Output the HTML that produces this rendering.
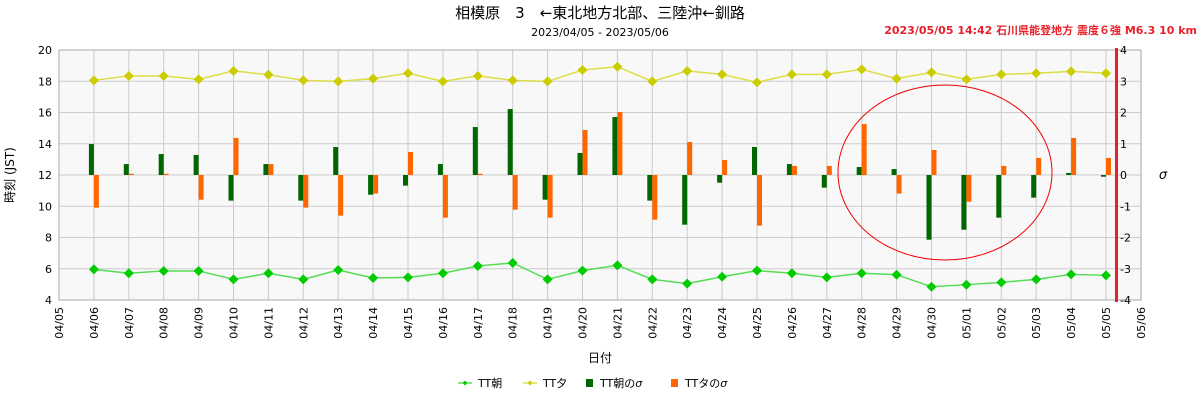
<!DOCTYPE html>
<html><head><meta charset="utf-8"><style>
html,body{margin:0;padding:0;background:#fff;}
svg{display:block;font-family:"DejaVu Sans","Liberation Sans","Noto Sans CJK JP",sans-serif;}
</style></head><body>
<svg id="c" width="1200" height="400" xmlns="http://www.w3.org/2000/svg">
<rect width="1200" height="400" fill="#fff"/>
<rect x="59" y="50" width="1082" height="250" fill="#f8f8f8"/>
<g id="grid"></g>
<g id="bars"></g>
<g id="lines"></g>
<rect x="59" y="50" width="1082" height="250" fill="none" stroke="#aaa" stroke-width="1"/>
<ellipse cx="945" cy="172.5" rx="107" ry="87.5" fill="none" stroke="#e00" stroke-width="1"/>
<line x1="1116.5" y1="48" x2="1116.5" y2="302" stroke="#e8202a" stroke-width="3"/>
<text x="600" y="18" text-anchor="middle" font-size="15" fill="#000" style="white-space:pre">相模原　3　←東北地方北部、三陸沖←釧路</text>
<text x="600" y="36" text-anchor="middle" font-size="11" fill="#000">2023/04/05 - 2023/05/06</text>
<text x="1197" y="34" text-anchor="end" font-size="11" font-weight="bold" fill="#e8202a">2023/05/05 14:42 石川県能登地方 震度６強 M6.3 10 km</text>
<text transform="translate(14,175) rotate(-90)" text-anchor="middle" font-size="12">時刻 (JST)</text>
<text x="1163" y="179" text-anchor="middle" font-size="13" font-style="italic">σ</text>
<text x="600" y="362" text-anchor="middle" font-size="12">日付</text>
<g font-size="11">
<line x1="458" y1="383" x2="472" y2="383" stroke="#00cc00"/><path d="M465 380.5 L467.5 383 L465 385.5 L462.5 383Z" fill="#00cc00"/>
<text x="478" y="387">TT朝</text>
<line x1="523" y1="383" x2="537" y2="383" stroke="#cccc00"/><path d="M530 380.5 L532.5 383 L530 385.5 L527.5 383Z" fill="#cccc00"/>
<text x="543" y="387">TT夕</text>
<rect x="586" y="379" width="7" height="8" fill="#006600"/>
<text x="600" y="387">TT朝の<tspan font-style="italic">σ</tspan></text>
<rect x="671" y="379" width="7" height="8" fill="#ff6600"/>
<text x="685" y="387">TTタの<tspan font-style="italic">σ</tspan></text>
</g>
<g id="labels" font-size="11"></g>
</svg>
<script>
var NS="http://www.w3.org/2000/svg";
function el(p,t,a,txt){var e=document.createElementNS(NS,t);for(var k in a)e.setAttribute(k,a[k]);if(txt!=null)e.textContent=txt;document.getElementById(p).appendChild(e);return e;}
function X(i){return 59+i*34.9;}
function Y(v){return 50+(20-v)*15.625;}
var days=["04/05","04/06","04/07","04/08","04/09","04/10","04/11","04/12","04/13","04/14","04/15","04/16","04/17","04/18","04/19","04/20","04/21","04/22","04/23","04/24","04/25","04/26","04/27","04/28","04/29","04/30","05/01","05/02","05/03","05/04","05/05","05/06"];
for(var i=0;i<days.length;i++){
 var x=X(i);
 el("grid","line",{x1:x,y1:50,x2:x,y2:300,stroke:"#cccccc","stroke-width":1});
 el("labels","text",{transform:"translate("+(x+4)+",307) rotate(-90)","text-anchor":"end"},days[i]);
}
for(var v=4;v<=20;v+=2){
 var y=Y(v);
 el("grid","line",{x1:59,y1:y,x2:1141,y2:y,stroke:"#cccccc","stroke-width":1});
 el("labels","text",{x:52,y:y+4,"text-anchor":"end"},v);
 var s=(v-12)/2;
 el("labels","text",{x:1120,y:y+4,"text-anchor":"start"},s);
}
var am=[5.96,5.71,5.86,5.86,5.32,5.71,5.32,5.92,5.41,5.45,5.71,6.18,6.37,5.32,5.88,6.22,5.32,5.05,5.49,5.88,5.71,5.45,5.71,5.62,4.85,4.98,5.13,5.32,5.64,5.58];
var pm=[18.06,18.34,18.34,18.12,18.66,18.42,18.06,17.99,18.17,18.51,17.99,18.34,18.06,17.99,18.72,18.93,17.99,18.66,18.44,17.93,18.44,18.44,18.76,18.17,18.57,18.12,18.44,18.51,18.63,18.51];
var ga=[13.98,12.70,13.34,13.28,10.36,12.70,10.36,13.79,10.74,11.32,12.70,15.07,16.22,10.42,13.41,15.71,10.36,8.82,11.51,13.79,12.70,11.19,12.51,12.38,7.86,8.50,9.27,10.55,12.13,11.89];
var op=[9.91,12.08,12.08,10.42,14.37,12.70,9.91,9.40,10.81,13.47,9.27,12.08,9.78,9.27,14.88,16.03,9.14,14.11,12.96,8.76,12.58,12.58,15.26,10.81,13.60,10.29,12.58,13.09,14.37,13.09];
var y0=Y(12);
for(var i=0;i<30;i++){
 var x=X(i+1);
 var yg=Y(ga[i]);el("bars","rect",{x:x-5,y:Math.min(yg,y0),width:5,height:Math.max(1,Math.abs(yg-y0)),fill:"#006600"});
 var yo=Y(op[i]);el("bars","rect",{x:x,y:Math.min(yo,y0),width:5,height:Math.max(1,Math.abs(yo-y0)),fill:"#ff6600"});
}
function series(d,col,lc){
 var pts=d.map(function(v,i){return X(i+1)+","+Y(v);}).join(" ");
 el("lines","polyline",{points:pts,fill:"none",stroke:lc,"stroke-width":1.5});
 d.forEach(function(v,i){var x=X(i+1),y=Y(v);el("lines","path",{d:"M"+x+" "+(y-5)+"L"+(x+5)+" "+y+"L"+x+" "+(y+5)+"L"+(x-5)+" "+y+"Z",fill:col});});
}
series(am,"#00cc00","#55dd55");
series(pm,"#cccc00","#dddd44");
</script>
</body></html>
